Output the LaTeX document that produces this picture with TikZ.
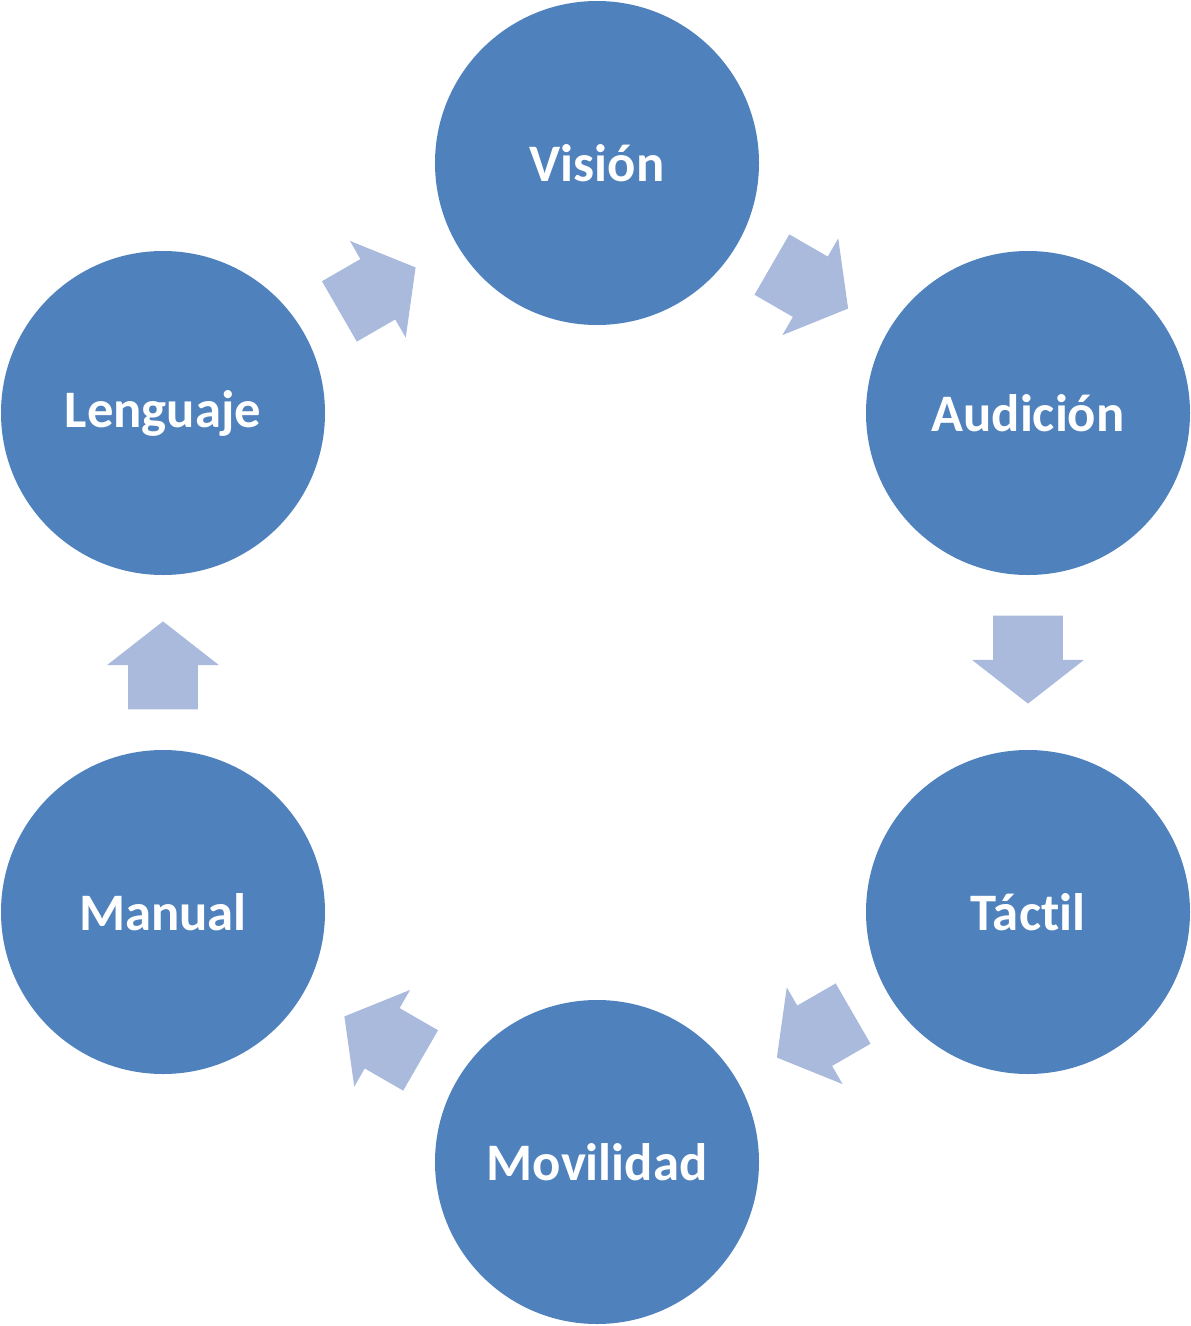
\documentclass[tikz,border=0pt]{standalone}
\usepackage{fontspec}
\setmainfont{Carlito}[Ligatures=NoCommon]
\usetikzlibrary{positioning,calc,shapes.arrows}
\definecolor{circblue}{HTML}{4F81BD}
\definecolor{arrowblue}{HTML}{A9BADC}
\tikzset{
    sense/.style={
           circle,
           fill=circblue,
           minimum size=6.48cm,
           inner sep=0pt,
           text=white,
           font=\fontsize{30}{36}\selectfont\bfseries,
           },
    flow/.style={
           single arrow,
           fill=arrowblue,
           minimum height=1.76cm,
           inner xsep=0pt,
           inner ysep=0.69cm,
           single arrow head extend=0.42cm,
           single arrow tip angle=104,
           },
}

\begin{document}
\begin{tikzpicture}

 \useasboundingbox (0,0) rectangle (23.82,-26.52);

 \node[sense] (VISION) at (11.94,-3.26) {Visión};

 \node[sense,
 node distance=9.98cm,
 below of=VISION,
 xshift=8.62cm,
 yshift=4.98cm,
 ] (AUDICION) {Audición};

 \node[sense,
 node distance=9.98cm,
 below of=AUDICION,
 ] (TACTIL) {Táctil};

 \node[sense,
 node distance=19.98cm,
 below of=VISION,
 ] (MOVILIDAD) {Movilidad};

 \node[sense,
 node distance=17.3cm,
 left of=TACTIL,
 ] (MANUAL) {Manual};

 \node[sense,
 node distance=9.98cm,
 above of=MANUAL,
 ] (LENGUAJE) {Lenguaje};

 % arrows between the circles
 \node[flow, rotate=-30, xshift=-0.33cm] (VA) at ($(VISION)!0.5!(AUDICION)$) {};
 \node[flow, rotate=-90, xshift=-0.33cm] (AT) at ($(AUDICION)!0.5!(TACTIL)$) {};
 \node[flow, rotate=-150, xshift=-0.33cm] (TM) at ($(TACTIL)!0.5!(MOVILIDAD)$) {};
 \node[flow, rotate=150, xshift=-0.33cm] (MM) at ($(MOVILIDAD)!0.5!(MANUAL)$) {};
 \node[flow, rotate=90, xshift=-0.33cm] (ML) at ($(MANUAL)!0.5!(LENGUAJE)$) {};
 \node[flow, rotate=30, xshift=-0.33cm] (LV) at ($(LENGUAJE)!0.5!(VISION)$) {};

\end{tikzpicture}
\end{document}
